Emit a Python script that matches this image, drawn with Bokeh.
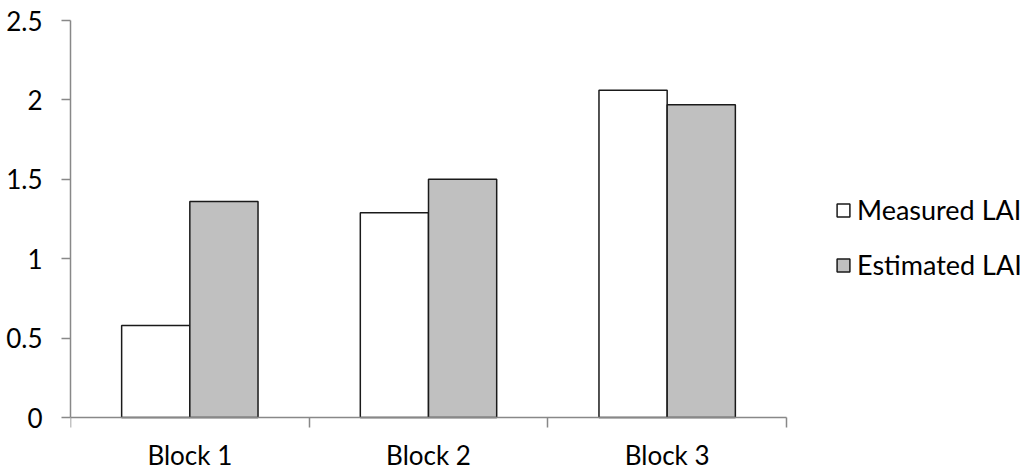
from bokeh.plotting import figure
from bokeh.models import ColumnDataSource, FixedTicker, Legend, LegendItem, Range1d
from bokeh.transform import dodge
from bokeh.embed import file_html
from bokeh.resources import INLINE

categories = ["Block 1", "Block 2", "Block 3"]
measured = [0.58, 1.29, 2.06]
estimated = [1.36, 1.50, 1.97]
y_ticks = [0, 0.5, 1, 1.5, 2, 2.5]
series_names = ["Measured LAI", "Estimated LAI"]

FONT = "Lato"
AXIS_COLOR = "#888888"
W, H = 1024, 469
LEFT, TOP = 70, 20
PLOT_RIGHT, ZERO_Y = 786, 417   # pixel positions of category-axis end and y=0

n = len(categories)
ymax = y_ticks[-1]
px_per_unit = (ZERO_Y - TOP) / ymax
x_end = n * (W - LEFT) / (PLOT_RIGHT - LEFT)
y_start = -(H - ZERO_Y) / px_per_unit

pos = [i + 0.5 for i in range(n)]
src = ColumnDataSource(dict(x=pos, measured=measured, estimated=estimated))

p = figure(width=W, height=H, output_backend="svg", toolbar_location=None,
           x_range=Range1d(0, x_end), y_range=Range1d(y_start, ymax),
           min_border_left=LEFT, min_border_right=0, min_border_top=TOP, min_border_bottom=0)

bw = 1 / 3.5
r1 = p.vbar(x=dodge("x", -bw / 2), top="measured", width=bw, source=src,
            fill_color="white", line_color="#1a1a1a", line_width=1.5)
r2 = p.vbar(x=dodge("x", bw / 2), top="estimated", width=bw, source=src,
            fill_color="#c0c0c0", line_color="#1a1a1a", line_width=1.5)

p.xgrid.visible = False
p.ygrid.visible = False
p.outline_line_color = None

# x axis: drawn at y=0, labels at category centres, tick marks at boundaries
xa = p.xaxis[0]
xa.fixed_location = 0
xa.bounds = (0, n)
xa.ticker = FixedTicker(ticks=pos, minor_ticks=list(range(n + 1)))
xa.major_label_overrides = {x: c for x, c in zip(pos, categories)}
xa.major_tick_out = 0
xa.major_tick_in = 0
xa.minor_tick_out = 10
xa.minor_tick_in = 0
xa.minor_tick_line_color = AXIS_COLOR
xa.axis_line_color = AXIS_COLOR
xa.axis_line_width = 1.5
xa.minor_tick_line_width = 1.5
xa.major_label_text_font = FONT
xa.major_label_text_font_size = "26px"
xa.major_label_text_color = "black"
xa.major_label_standoff = 11

ya = p.yaxis[0]
ya.bounds = (0, ymax)
ya.ticker = FixedTicker(ticks=y_ticks, minor_ticks=[])
ya.major_label_overrides = {v: f"{v:g}" for v in y_ticks}
ya.major_tick_out = 9
ya.major_tick_in = 0
ya.minor_tick_out = 0
ya.minor_tick_in = 0
ya.major_tick_line_color = AXIS_COLOR
ya.axis_line_color = AXIS_COLOR
ya.axis_line_width = 1.5
ya.major_tick_line_width = 1.5
ya.major_label_text_font = FONT
ya.major_label_text_font_size = "26px"
ya.major_label_text_color = "black"
ya.major_label_standoff = 19

legend = Legend(items=[LegendItem(label=series_names[0], renderers=[r1]),
                       LegendItem(label=series_names[1], renderers=[r2])],
                location=(765, 188))
legend.border_line_color = None
legend.background_fill_alpha = 0
legend.padding = 0
legend.margin = 0
legend.glyph_width = 16
legend.glyph_height = 16
legend.label_standoff = 6
legend.spacing = 22
legend.label_text_font = FONT
legend.label_text_font_size = "27px"
legend.label_text_color = "black"
p.add_layout(legend)

open("out.html", "w").write(file_html(p, INLINE))
